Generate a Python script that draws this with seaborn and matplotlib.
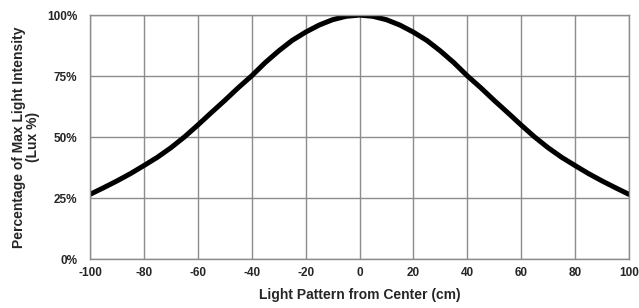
import seaborn as sns
import pandas as pd
import matplotlib.pyplot as plt
from matplotlib.ticker import PercentFormatter

# distance from center (cm) and relative intensity (%)
position = [-100, -95, -90, -85, -80, -75, -70, -65, -60, -55, -50, -45, -40, -35, -30, -25, -20, -15, -10, -5,
            0, 5, 10, 15, 20, 25, 30, 35, 40, 45, 50, 55, 60, 65, 70, 75, 80, 85, 90, 95, 100]
intensity = [26.5, 29.2, 32.0, 35.0, 38.3, 41.7, 45.6, 50.0, 54.9, 60.0, 65.0, 70.2, 75.1, 80.5, 85.3, 89.6, 93.0,
             95.9, 98.1, 99.5, 100.0, 99.5, 98.1, 95.9, 93.0, 89.6, 85.3, 80.5, 75.1, 70.2, 65.0, 60.0, 54.9,
             50.0, 45.6, 41.7, 38.3, 35.0, 32.0, 29.2, 26.5]
x_ticks = list(range(-100, 101, 20))
y_ticks = [0, 25, 50, 75, 100]

df = pd.DataFrame({'pos': position, 'lux': intensity})

sns.set_style('white')
plt.rcParams['font.family'] = ['Liberation Sans', 'DejaVu Sans']
plt.rcParams['font.weight'] = 'bold'
plt.rcParams['axes.unicode_minus'] = False

fig = plt.figure(figsize=(6.39, 3.08), dpi=100)
ax = fig.add_axes([0.1408, 0.159, 0.8436, 0.792])
sns.lineplot(data=df, x='pos', y='lux', color='black', linewidth=3.6, ax=ax)

ax.set_xlim(-100, 100)
ax.set_ylim(0, 100)
ax.set_xticks(x_ticks)
ax.set_yticks(y_ticks)
ax.yaxis.set_major_formatter(PercentFormatter(decimals=0))
ax.grid(True, color='#8c8c8c', linewidth=1.0)
ax.set_axisbelow(True)
for s in ax.spines.values():
    s.set_color('#8c8c8c')
    s.set_linewidth(1.0)
ax.tick_params(length=0, labelsize=8.5)
ax.tick_params(axis='y', pad=9)
ax.tick_params(axis='x', pad=6)
for lab in ax.get_xticklabels() + ax.get_yticklabels():
    lab.set_fontweight('bold')

ax.set_xlabel('Light Pattern from Center (cm)', fontsize=10, fontweight='bold', labelpad=6)
ax.set_ylabel('Percentage of Max Light Intensity\n(Lux %)', fontsize=10, fontweight='bold', labelpad=5,
              linespacing=1.05)

plt.savefig('out.png', dpi=100)
